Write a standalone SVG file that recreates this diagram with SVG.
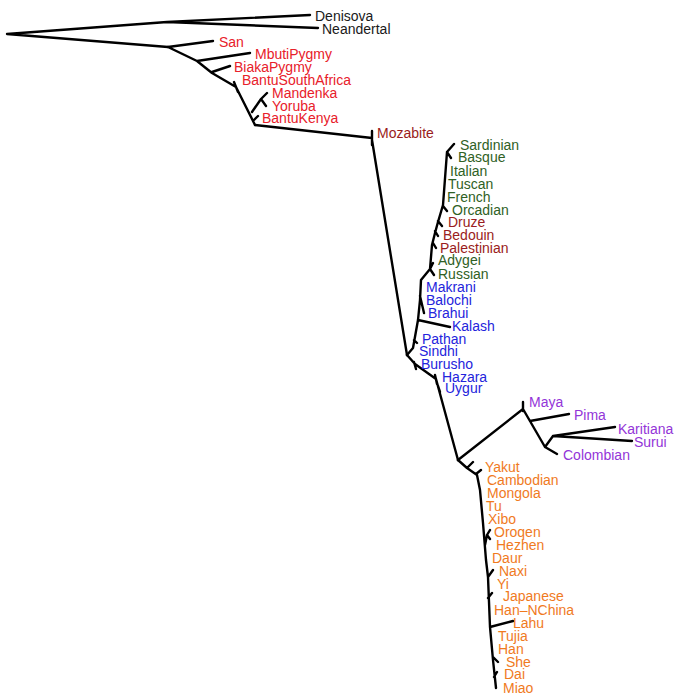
<svg xmlns="http://www.w3.org/2000/svg" width="675" height="695" viewBox="0 0 675 695">
<style>
.e{fill:none;stroke:#000;stroke-width:2.4;stroke-linecap:round;stroke-linejoin:round}
text{font-family:"Liberation Sans",Arial,sans-serif;font-size:14px}
.k{fill:#1a1a1a}.r{fill:#e8202a}.dr{fill:#9a1c20}.g{fill:#2f6125}.b{fill:#2424dc}.p{fill:#9335d8}.o{fill:#f07a1e}
</style>
<rect width="675" height="695" fill="#fff"/>
<g id="connectors">
<path class="e" d="M7,34 L167,22 M167,22 L310,15 M167,22 L318,28 M7,34 L168,47"/>
<path class="e" d="M168,47 L213,41 M168,47 L197,61 L212,73 L236,87 L255,125 M197,61 L250,53 M212,72 L230,66 M234,82 L238,92 M252,112 L261,99 L267,93 M261,99 L266,106 M254,120 L258,116"/>
<path class="e" d="M255,125 L372,138 M372,131 L372,145 M372,140 L407,355"/>
<path class="e" d="M407,355 L413,348 L418,320 L420,300 L421,280 L430,269 L432,245 L435,233 L438,222 L443,205 L447,152 M447,152 L454,144 M447,152 L451,158 M443,206 L447,211 M438,221 L442,226 M435,231 L438,236 M433,243 L436,248 M430,269 L433,263 M430,269 L434,275 M420,296 L424,313 M418,320 L450,327 M414,340 L417,343"/>
<path class="e" d="M407,355 L415,364 L436,379 L458,460 M414,362 L416,369 M435,375 L437,384 M438,386 L440,392"/>
<path class="e" d="M458,460 L523,409 M523,402 L523,411 M523,409 L545,447 M530,421 L569,414 M545,447 L557,454 M545,447 L553,436 M553,436 L615,427 M553,436 L632,441"/>
<path class="e" d="M458,460 L467,468 L477,475 L480,490 L483,523 L486,560 L488,577 L490,627 L493,660 L496,688 M467,468 L473,462 M476,474 L481,470 M485,545 L487,535 L490,530 M487,535 L490,539 M488,577 L493,570 M488,598 L492,593 M490,627 L513,621 M493,657 L498,662 M494,677 L497,672"/>
</g>
<g id="n-denisova"><text class="k" x="315" y="21">Denisova</text></g>
<g id="n-neandertal"><text class="k" x="322" y="34">Neandertal</text></g>
<g id="n-san"><text class="r" x="219" y="47">San</text></g>
<g id="n-mbutipygmy"><text class="r" x="255" y="59">MbutiPygmy</text></g>
<g id="n-biakapygmy"><text class="r" x="234" y="72">BiakaPygmy</text></g>
<g id="n-bantusouthafrica"><text class="r" x="242" y="85">BantuSouthAfrica</text></g>
<g id="n-mandenka"><text class="r" x="272" y="98">Mandenka</text></g>
<g id="n-yoruba"><text class="r" x="272" y="111">Yoruba</text></g>
<g id="n-bantukenya"><text class="r" x="262" y="123">BantuKenya</text></g>
<g id="n-mozabite"><text class="dr" x="377" y="138">Mozabite</text></g>
<g id="n-sardinian"><text class="g" x="460" y="150">Sardinian</text></g>
<g id="n-basque"><text class="g" x="458" y="162">Basque</text></g>
<g id="n-italian"><text class="g" x="450" y="176">Italian</text></g>
<g id="n-tuscan"><text class="g" x="448" y="189">Tuscan</text></g>
<g id="n-french"><text class="g" x="447" y="202">French</text></g>
<g id="n-orcadian"><text class="g" x="452" y="215">Orcadian</text></g>
<g id="n-druze"><text class="dr" x="448" y="227">Druze</text></g>
<g id="n-bedouin"><text class="dr" x="443" y="240">Bedouin</text></g>
<g id="n-palestinian"><text class="dr" x="440" y="253">Palestinian</text></g>
<g id="n-adygei"><text class="g" x="438" y="265">Adygei</text></g>
<g id="n-russian"><text class="g" x="438" y="279">Russian</text></g>
<g id="n-makrani"><text class="b" x="426" y="292">Makrani</text></g>
<g id="n-balochi"><text class="b" x="426" y="305">Balochi</text></g>
<g id="n-brahui"><text class="b" x="428" y="318">Brahui</text></g>
<g id="n-kalash"><text class="b" x="452" y="331">Kalash</text></g>
<g id="n-pathan"><text class="b" x="422" y="344">Pathan</text></g>
<g id="n-sindhi"><text class="b" x="419" y="356">Sindhi</text></g>
<g id="n-burusho"><text class="b" x="421" y="369">Burusho</text></g>
<g id="n-hazara"><text class="b" x="442" y="382">Hazara</text></g>
<g id="n-uygur"><text class="b" x="445" y="393">Uygur</text></g>
<g id="n-maya"><text class="p" x="529" y="407">Maya</text></g>
<g id="n-pima"><text class="p" x="574" y="420">Pima</text></g>
<g id="n-karitiana"><text class="p" x="618" y="434">Karitiana</text></g>
<g id="n-surui"><text class="p" x="634" y="447">Surui</text></g>
<g id="n-colombian"><text class="p" x="563" y="460">Colombian</text></g>
<g id="n-yakut"><text class="o" x="485" y="472">Yakut</text></g>
<g id="n-cambodian"><text class="o" x="487" y="485">Cambodian</text></g>
<g id="n-mongola"><text class="o" x="487" y="498">Mongola</text></g>
<g id="n-tu"><text class="o" x="486" y="511">Tu</text></g>
<g id="n-xibo"><text class="o" x="488" y="524">Xibo</text></g>
<g id="n-oroqen"><text class="o" x="494" y="537">Oroqen</text></g>
<g id="n-hezhen"><text class="o" x="496" y="550">Hezhen</text></g>
<g id="n-daur"><text class="o" x="492" y="563">Daur</text></g>
<g id="n-naxi"><text class="o" x="499" y="576">Naxi</text></g>
<g id="n-yi"><text class="o" x="497" y="589">Yi</text></g>
<g id="n-japanese"><text class="o" x="503" y="601">Japanese</text></g>
<g id="n-han-nchina"><text class="o" x="494" y="615">Han–NChina</text></g>
<g id="n-lahu"><text class="o" x="513" y="628">Lahu</text></g>
<g id="n-tujia"><text class="o" x="498" y="641">Tujia</text></g>
<g id="n-han"><text class="o" x="498" y="654">Han</text></g>
<g id="n-she"><text class="o" x="506" y="667">She</text></g>
<g id="n-dai"><text class="o" x="504" y="679">Dai</text></g>
<g id="n-miao"><text class="o" x="503" y="693">Miao</text></g>
</svg>
